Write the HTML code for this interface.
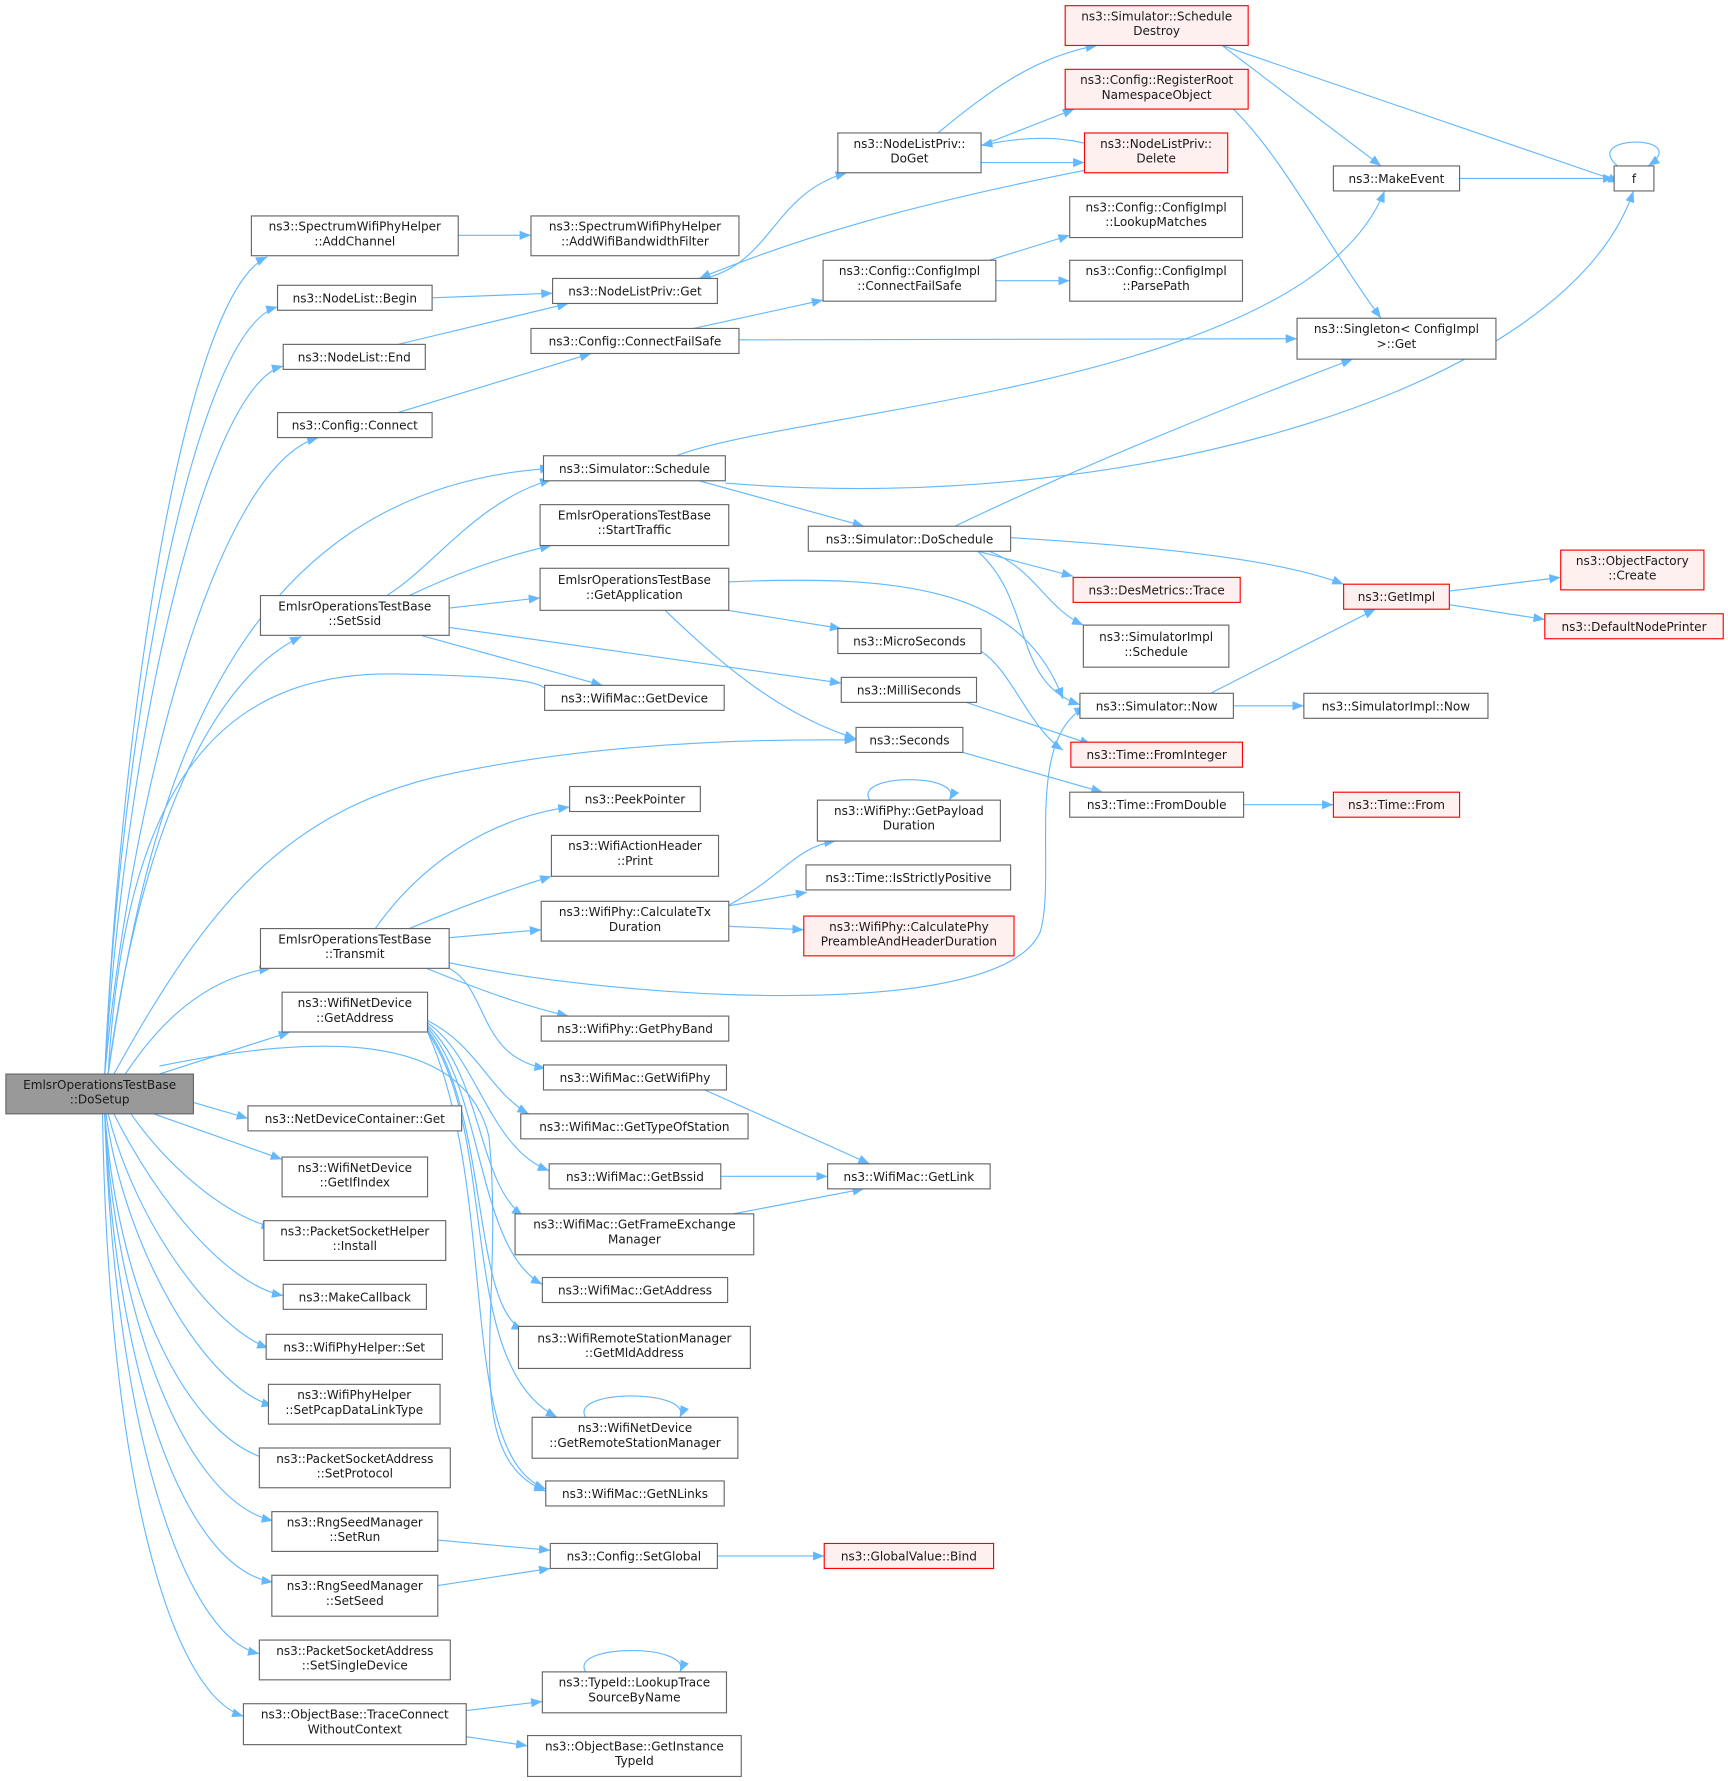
<!DOCTYPE html>
<html><head><meta charset="utf-8"><style>
html,body{margin:0;padding:0;background:#fff;width:1728px;height:1781px;overflow:hidden}
svg{display:block}
text{font-family:"DejaVu Sans","Liberation Sans",sans-serif;font-size:10.6px;fill:#1a1a1a;text-anchor:middle}
.n{fill:#fff;stroke:#666;stroke-width:1}
.r{fill:#fff0f0;stroke:#ff0000;stroke-width:1}
.g{fill:#999;stroke:#666;stroke-width:1}
path.e{fill:none;stroke:#63b8ff;stroke-width:1;marker-end:url(#a)}
</style></head><body>
<svg width="1728" height="1781" viewBox="0 0 1520 1567" xmlns="http://www.w3.org/2000/svg">
<defs><marker id="a" markerUnits="userSpaceOnUse" markerWidth="12" markerHeight="10" refX="10" refY="4" orient="auto"><path d="M0,0 L10,4 L0,8 z" fill="#63b8ff"/></marker></defs>
<g>
<path class="e" d="M92,945 C105,650 160,260 235,226"/>
<path class="e" d="M92,945 C105,650 170,290 244,270"/>
<path class="e" d="M92,945 C110,650 180,340 249,322"/>
<path class="e" d="M92,945 C115,700 190,410 280,385"/>
<path class="e" d="M95,945 C130,700 200,430 485,412"/>
<path class="e" d="M95,945 C120,750 180,600 265,560"/>
<path class="e" d="M95,945 C110,680 200,590 350,593 S470,605 490,612"/>
<path class="e" d="M100,945 C180,800 250,710 400,680 C520,655 650,650 753,651"/>
<path class="e" d="M110,945 C140,900 180,860 238,852"/>
<path class="e" d="M140,945 L255,908"/>
<path class="e" d="M140,938 C300,905 410,915 430,1000 C445,1150 400,1280 480,1312"/>
<path class="e" d="M170,970 L218,984"/>
<path class="e" d="M135,980 L248,1020"/>
<path class="e" d="M115,980 C150,1030 200,1070 240,1080"/>
<path class="e" d="M100,980 C140,1060 200,1130 249,1140"/>
<path class="e" d="M95,980 C120,1080 190,1170 236,1186"/>
<path class="e" d="M93,980 C110,1100 180,1220 240,1237"/>
<path class="e" d="M92,980 C105,1150 170,1270 240,1285"/>
<path class="e" d="M92,980 C100,1150 160,1320 240,1338"/>
<path class="e" d="M92,980 C100,1200 160,1380 240,1392"/>
<path class="e" d="M92,980 C100,1250 160,1440 228,1455"/>
<path class="e" d="M90,980 C95,1300 150,1490 214,1510"/>
<path class="e" d="M403,207 L467,207"/>
<path class="e" d="M380,262 L486,258"/>
<path class="e" d="M350,303 L500,267"/>
<path class="e" d="M350,363 L520,311"/>
<path class="e" d="M340,524 C380,500 420,440 485,422"/>
<path class="e" d="M360,524 C400,505 440,490 485,480"/>
<path class="e" d="M395,535 L475,526"/>
<path class="e" d="M370,559 L530,603"/>
<path class="e" d="M395,552 L740,601"/>
<path class="e" d="M330,817 C370,760 430,720 501,710"/>
<path class="e" d="M360,817 C400,800 440,785 485,771"/>
<path class="e" d="M395,825 L476,818"/>
<path class="e" d="M375,852 C420,870 460,885 500,894"/>
<path class="e" d="M395,852 C430,870 420,930 480,940"/>
<path class="e" d="M395,847 C550,880 880,900 915,820 C930,770 900,650 955,622"/>
<path class="e" d="M376,898 C420,920 430,960 465,980"/>
<path class="e" d="M376,900 C420,930 430,1010 483,1030"/>
<path class="e" d="M376,902 C425,950 420,1040 460,1070"/>
<path class="e" d="M376,904 C425,960 420,1100 477,1130"/>
<path class="e" d="M376,906 C430,980 415,1150 460,1170"/>
<path class="e" d="M376,908 C440,1000 400,1200 490,1247"/>
<path class="e" d="M376,908 C440,1050 400,1280 480,1310"/>
<path class="e" d="M620,245 C680,230 680,170 745,152"/>
<path class="e" d="M610,289 L724,264"/>
<path class="e" d="M650,299 L1141,298"/>
<path class="e" d="M615,423 L760,463"/>
<path class="e" d="M595,401 C700,360 1150,340 1218,168"/>
<path class="e" d="M638,425 C1000,455 1380,340 1437,168"/>
<path class="e" d="M640,537 L740,553"/>
<path class="e" d="M585,537 C640,590 690,630 753,650"/>
<path class="e" d="M641,512 C800,505 900,520 935,615"/>
<path class="e" d="M640,797 C690,770 700,745 735,740"/>
<path class="e" d="M641,797 L710,785"/>
<path class="e" d="M641,815 L707,818"/>
<path class="e" d="M620,959 L765,1024"/>
<path class="e" d="M634,1035 L728,1035"/>
<path class="e" d="M645,1068 L760,1046"/>
<path class="e" d="M631,1369 L725,1369"/>
<path class="e" d="M385,1355 L484,1364"/>
<path class="e" d="M385,1395 L484,1380"/>
<path class="e" d="M410,1505 L477,1497"/>
<path class="e" d="M410,1528 L464,1536"/>
<path class="e" d="M515,1471 C500,1446 610,1446 598,1471"/>
<path class="e" d="M765,704 C750,680 850,680 835,704"/>
<path class="e" d="M515,1247 C500,1222 610,1222 598,1247"/>
<path class="e" d="M825,117 C870,80 910,50 965,40"/>
<path class="e" d="M863,128 L945,96"/>
<path class="e" d="M863,143 L954,143"/>
<path class="e" d="M954,126 C930,120 900,120 863,128"/>
<path class="e" d="M954,150 C800,180 700,210 615,245"/>
<path class="e" d="M870,229 L941,207"/>
<path class="e" d="M876,247 L941,247"/>
<path class="e" d="M860,485 L944,507"/>
<path class="e" d="M870,485 C910,500 920,535 953,550"/>
<path class="e" d="M860,485 C910,530 890,600 950,620"/>
<path class="e" d="M889,473 C1000,480 1120,490 1182,514"/>
<path class="e" d="M840,463 C950,410 1100,350 1190,316"/>
<path class="e" d="M863,573 C890,590 905,640 935,660"/>
<path class="e" d="M850,618 L960,655"/>
<path class="e" d="M847,662 L970,697"/>
<path class="e" d="M1075,40 L1215,146"/>
<path class="e" d="M1075,40 L1425,160"/>
<path class="e" d="M1085,96 C1130,140 1170,220 1215,280"/>
<path class="e" d="M1284,157 L1420,157"/>
<path class="e" d="M1423,146 C1390,118 1490,118 1450,146"/>
<path class="e" d="M1065,610 L1210,536"/>
<path class="e" d="M1085,621 L1147,621"/>
<path class="e" d="M1094,708 L1173,708"/>
<path class="e" d="M1275,520 L1373,508"/>
<path class="e" d="M1275,532 L1359,545"/>
</g>
<g>
<rect class="g" x="5" y="945" width="165" height="35"/><text x="87.5" y="958">EmlsrOperationsTestBase</text><text x="87.5" y="971">::DoSetup</text>
<rect class="n" x="221" y="190" width="182" height="35"/><text x="312" y="203">ns3::SpectrumWifiPhyHelper</text><text x="312" y="216">::AddChannel</text>
<rect class="n" x="244" y="251" width="136" height="22"/><text x="312" y="266">ns3::NodeList::Begin</text>
<rect class="n" x="249" y="303" width="125" height="22"/><text x="311.5" y="318">ns3::NodeList::End</text>
<rect class="n" x="244" y="363" width="136" height="22"/><text x="312" y="378">ns3::Config::Connect</text>
<rect class="n" x="478" y="401" width="160" height="22"/><text x="558" y="416">ns3::Simulator::Schedule</text>
<rect class="n" x="229" y="524" width="166" height="35"/><text x="312" y="537">EmlsrOperationsTestBase</text><text x="312" y="550">::SetSsid</text>
<rect class="n" x="479" y="603" width="158" height="22"/><text x="558" y="618">ns3::WifiMac::GetDevice</text>
<rect class="n" x="753" y="640" width="94" height="22"/><text x="800" y="655">ns3::Seconds</text>
<rect class="n" x="229" y="817" width="166" height="35"/><text x="312" y="830">EmlsrOperationsTestBase</text><text x="312" y="843">::Transmit</text>
<rect class="n" x="248" y="873" width="128" height="35"/><text x="312" y="886">ns3::WifiNetDevice</text><text x="312" y="899">::GetAddress</text>
<rect class="n" x="218" y="973" width="188" height="22"/><text x="312" y="988">ns3::NetDeviceContainer::Get</text>
<rect class="n" x="248" y="1018" width="128" height="35"/><text x="312" y="1031">ns3::WifiNetDevice</text><text x="312" y="1044">::GetIfIndex</text>
<rect class="n" x="232" y="1074" width="160" height="35"/><text x="312" y="1087">ns3::PacketSocketHelper</text><text x="312" y="1100">::Install</text>
<rect class="n" x="249" y="1130" width="126" height="22"/><text x="312" y="1145">ns3::MakeCallback</text>
<rect class="n" x="234" y="1174" width="155" height="22"/><text x="311.5" y="1189">ns3::WifiPhyHelper::Set</text>
<rect class="n" x="236" y="1218" width="151" height="35"/><text x="311.5" y="1231">ns3::WifiPhyHelper</text><text x="311.5" y="1244">::SetPcapDataLinkType</text>
<rect class="n" x="228" y="1274" width="168" height="35"/><text x="312" y="1287">ns3::PacketSocketAddress</text><text x="312" y="1300">::SetProtocol</text>
<rect class="n" x="239" y="1330" width="146" height="35"/><text x="312" y="1343">ns3::RngSeedManager</text><text x="312" y="1356">::SetRun</text>
<rect class="n" x="239" y="1386" width="146" height="36"/><text x="312" y="1399">ns3::RngSeedManager</text><text x="312" y="1412">::SetSeed</text>
<rect class="n" x="228" y="1443" width="168" height="35"/><text x="312" y="1456">ns3::PacketSocketAddress</text><text x="312" y="1469">::SetSingleDevice</text>
<rect class="n" x="214" y="1499" width="196" height="36"/><text x="312" y="1512">ns3::ObjectBase::TraceConnect</text><text x="312" y="1525">WithoutContext</text>
<rect class="n" x="467" y="190" width="183" height="35"/><text x="558.5" y="203">ns3::SpectrumWifiPhyHelper</text><text x="558.5" y="216">::AddWifiBandwidthFilter</text>
<rect class="n" x="486" y="245" width="145" height="22"/><text x="558.5" y="260">ns3::NodeListPriv::Get</text>
<rect class="n" x="467" y="289" width="183" height="22"/><text x="558.5" y="304">ns3::Config::ConnectFailSafe</text>
<rect class="n" x="475" y="444" width="166" height="36"/><text x="558" y="457">EmlsrOperationsTestBase</text><text x="558" y="470">::StartTraffic</text>
<rect class="n" x="475" y="500" width="166" height="37"/><text x="558" y="514">EmlsrOperationsTestBase</text><text x="558" y="527">::GetApplication</text>
<rect class="n" x="501" y="692" width="115" height="22"/><text x="558.5" y="707">ns3::PeekPointer</text>
<rect class="n" x="485" y="735" width="147" height="36"/><text x="558.5" y="748">ns3::WifiActionHeader</text><text x="558.5" y="761">::Print</text>
<rect class="n" x="476" y="793" width="165" height="35"/><text x="558.5" y="806">ns3::WifiPhy::CalculateTx</text><text x="558.5" y="819">Duration</text>
<rect class="n" x="476" y="894" width="165" height="22"/><text x="558.5" y="909">ns3::WifiPhy::GetPhyBand</text>
<rect class="n" x="478" y="937" width="161" height="22"/><text x="558.5" y="952">ns3::WifiMac::GetWifiPhy</text>
<rect class="n" x="458" y="980" width="200" height="22"/><text x="558" y="995">ns3::WifiMac::GetTypeOfStation</text>
<rect class="n" x="483" y="1024" width="151" height="22"/><text x="558.5" y="1039">ns3::WifiMac::GetBssid</text>
<rect class="n" x="453" y="1068" width="210" height="36"/><text x="558" y="1081">ns3::WifiMac::GetFrameExchange</text><text x="558" y="1094">Manager</text>
<rect class="n" x="477" y="1124" width="163" height="22"/><text x="558.5" y="1139">ns3::WifiMac::GetAddress</text>
<rect class="n" x="456" y="1167" width="204" height="37"/><text x="558" y="1181">ns3::WifiRemoteStationManager</text><text x="558" y="1194">::GetMldAddress</text>
<rect class="n" x="468" y="1247" width="181" height="36"/><text x="558.5" y="1260">ns3::WifiNetDevice</text><text x="558.5" y="1273">::GetRemoteStationManager</text>
<rect class="n" x="480" y="1303" width="157" height="22"/><text x="558.5" y="1318">ns3::WifiMac::GetNLinks</text>
<rect class="n" x="484" y="1358" width="147" height="22"/><text x="557.5" y="1373">ns3::Config::SetGlobal</text>
<rect class="n" x="477" y="1471" width="162" height="36"/><text x="558" y="1484">ns3::TypeId::LookupTrace</text><text x="558" y="1497">SourceByName</text>
<rect class="n" x="464" y="1527" width="188" height="36"/><text x="558" y="1540">ns3::ObjectBase::GetInstance</text><text x="558" y="1553">TypeId</text>
<rect class="n" x="737" y="117" width="126" height="35"/><text x="800" y="130">ns3::NodeListPriv::</text><text x="800" y="143">DoGet</text>
<rect class="n" x="724" y="229" width="152" height="36"/><text x="800" y="242">ns3::Config::ConfigImpl</text><text x="800" y="255">::ConnectFailSafe</text>
<rect class="n" x="711" y="463" width="178" height="22"/><text x="800" y="478">ns3::Simulator::DoSchedule</text>
<rect class="n" x="737" y="553" width="126" height="22"/><text x="800" y="568">ns3::MicroSeconds</text>
<rect class="n" x="740" y="596" width="119" height="22"/><text x="799.5" y="611">ns3::MilliSeconds</text>
<rect class="n" x="719" y="704" width="161" height="36"/><text x="799.5" y="717">ns3::WifiPhy::GetPayload</text><text x="799.5" y="730">Duration</text>
<rect class="n" x="709" y="761" width="180" height="22"/><text x="799" y="776">ns3::Time::IsStrictlyPositive</text>
<rect class="r" x="707" y="806" width="185" height="35"/><text x="799.5" y="819">ns3::WifiPhy::CalculatePhy</text><text x="799.5" y="832">PreambleAndHeaderDuration</text>
<rect class="n" x="728" y="1024" width="143" height="22"/><text x="799.5" y="1039">ns3::WifiMac::GetLink</text>
<rect class="r" x="725" y="1358" width="149" height="22"/><text x="799.5" y="1373">ns3::GlobalValue::Bind</text>
<rect class="r" x="937" y="5" width="161" height="35"/><text x="1017.5" y="18">ns3::Simulator::Schedule</text><text x="1017.5" y="31">Destroy</text>
<rect class="r" x="937" y="61" width="161" height="35"/><text x="1017.5" y="74">ns3::Config::RegisterRoot</text><text x="1017.5" y="87">NamespaceObject</text>
<rect class="r" x="954" y="117" width="126" height="35"/><text x="1017" y="130">ns3::NodeListPriv::</text><text x="1017" y="143">Delete</text>
<rect class="n" x="941" y="173" width="152" height="36"/><text x="1017" y="186">ns3::Config::ConfigImpl</text><text x="1017" y="199">::LookupMatches</text>
<rect class="n" x="941" y="229" width="152" height="36"/><text x="1017" y="242">ns3::Config::ConfigImpl</text><text x="1017" y="255">::ParsePath</text>
<rect class="r" x="944" y="508" width="147" height="22"/><text x="1017.5" y="523">ns3::DesMetrics::Trace</text>
<rect class="n" x="953" y="550" width="128" height="37"/><text x="1017" y="564">ns3::SimulatorImpl</text><text x="1017" y="577">::Schedule</text>
<rect class="n" x="950" y="610" width="135" height="22"/><text x="1017.5" y="625">ns3::Simulator::Now</text>
<rect class="r" x="942" y="653" width="151" height="22"/><text x="1017.5" y="668">ns3::Time::FromInteger</text>
<rect class="n" x="941" y="697" width="153" height="22"/><text x="1017.5" y="712">ns3::Time::FromDouble</text>
<rect class="n" x="1173" y="146" width="111" height="22"/><text x="1228.5" y="161">ns3::MakeEvent</text>
<rect class="n" x="1141" y="280" width="175" height="36"/><text x="1228.5" y="293">ns3::Singleton&lt; ConfigImpl</text><text x="1228.5" y="306">&gt;::Get</text>
<rect class="r" x="1182" y="514" width="93" height="22"/><text x="1228.5" y="529">ns3::GetImpl</text>
<rect class="n" x="1147" y="610" width="162" height="22"/><text x="1228" y="625">ns3::SimulatorImpl::Now</text>
<rect class="r" x="1173" y="697" width="111" height="22"/><text x="1228.5" y="712">ns3::Time::From</text>
<rect class="n" x="1420" y="146" width="35" height="22"/><text x="1437.5" y="161">f</text>
<rect class="r" x="1373" y="484" width="126" height="35"/><text x="1436" y="497">ns3::ObjectFactory</text><text x="1436" y="510">::Create</text>
<rect class="r" x="1359" y="540" width="157" height="22"/><text x="1437.5" y="555">ns3::DefaultNodePrinter</text>
</g>
</svg>
</body></html>
